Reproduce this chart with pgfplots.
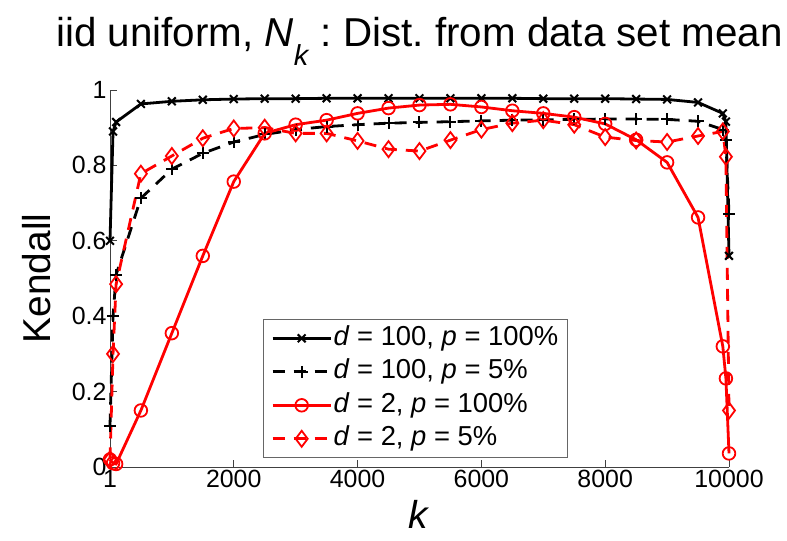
\documentclass[border=0pt]{standalone}
\usepackage{pgfplots}
\pgfplotsset{compat=1.18}
\usepackage{pgfplotstable}
\usepackage{fontspec}
\setmainfont{Liberation Sans}

\pgfplotstableread{
k A B C D
1 0.600 0.110 0.020 0.020
50 0.890 0.400 0.010 0.300
100 0.915 0.510 0.008 0.485
500 0.963 0.713 0.150 0.778
1000 0.970 0.790 0.355 0.825
1500 0.974 0.832 0.560 0.872
2000 0.976 0.862 0.757 0.898
2500 0.977 0.882 0.885 0.900
3000 0.977 0.895 0.908 0.885
3500 0.978 0.903 0.920 0.885
4000 0.978 0.908 0.938 0.865
4500 0.978 0.912 0.952 0.843
5000 0.978 0.914 0.960 0.838
5500 0.978 0.916 0.962 0.867
6000 0.978 0.918 0.955 0.895
6500 0.978 0.920 0.945 0.912
7000 0.977 0.921 0.938 0.920
7500 0.977 0.922 0.928 0.908
8000 0.977 0.923 0.910 0.875
8500 0.976 0.923 0.868 0.866
9000 0.975 0.922 0.808 0.862
9500 0.967 0.917 0.662 0.878
9900 0.938 0.895 0.320 0.890
9950 0.916 0.867 0.235 0.823
10000 0.560 0.670 0.036 0.150
}\data

\begin{document}
\frenchspacing
\begin{tikzpicture}
\begin{axis}[name=ax,
  scale only axis, width=619bp, height=377bp,
  xmin=1, xmax=10000, ymin=0, ymax=1,
  clip=false,
  scaled x ticks=false, scaled y ticks=false,
  axis x line*=bottom, axis y line*=left,
  axis line style={black!75, line width=0.8bp},
  tick align=inside, major tick length=7bp,
  tick style={black!75, line width=0.8bp},
  xtick={1,2000,4000,6000,8000,10000},
  xticklabels={1,2000,4000,6000,8000,10000},
  ytick={0,0.2,0.4,0.6,0.8,1},
  yticklabels={0,0.2,0.4,0.6,0.8,1},
  tick label style={font=\fontsize{25}{25}\selectfont},
  title={iid uniform, \textit{N}\raisebox{-19bp}{\fontsize{29}{29}\selectfont\textit{k}} : Dist. from data set mean},
  title style={font=\fontsize{40.5}{40.5}\selectfont, at={(0.5,1.1008)}, anchor=base, inner sep=0pt},
  xlabel={\textit{k}},
  xlabel style={font=\fontsize{39}{39}\selectfont, at={(0.5,-0.1618)}, anchor=base, inner sep=0pt},
  ylabel={Kendall},
  ylabel style={font=\fontsize{39}{39}\selectfont, at={(-0.0969,0.5)}, anchor=base, inner sep=0pt},
  legend cell align=left,
  legend image code/.code={\draw[mark repeat=2, mark phase=2] plot coordinates {(0bp,0bp) (29bp,0bp) (58bp,0bp)};},
  legend style={at={(0.247,0.024)}, anchor=south west, draw=black!60, line width=0.8bp,
    font=\fontsize{27.5}{27.5}\selectfont, inner xsep=8bp, inner ysep=3bp, row sep=2bp,
    nodes={inner sep=1.5bp, text height=21bp, text depth=7.5bp}},
]
\addplot[black, line width=2.8bp, mark=x, mark size=5.5bp, mark options={solid, line width=2bp}] table[x=k,y=A]{\data};
\addlegendentry{\textit{d} = 100, \textit{p} = 100\%}
\addplot[black, line width=2.8bp, dash pattern=on 12bp off 9bp, mark=+, mark size=6bp, mark options={solid, line width=2bp}] table[x=k,y=B]{\data};
\addlegendentry{\textit{d} = 100, \textit{p} = 5\%}
\addplot[red, line width=2.8bp, mark=o, mark size=6.3bp, mark options={solid, line width=1.8bp}] table[x=k,y=C]{\data};
\addlegendentry{\textit{d} = 2, \textit{p} = 100\%}
\addplot[red, line width=2.8bp, dash pattern=on 12bp off 9bp, mark=diamond, mark size=8bp, mark options={solid, line width=1.8bp}] table[x=k,y=D]{\data};
\addlegendentry{\textit{d} = 2, \textit{p} = 5\%}
\end{axis}
\pgfresetboundingbox
\path[use as bounding box] ([shift={(-110bp,-74bp)}]ax.south west) rectangle ([shift={(58bp,90bp)}]ax.north east);
\end{tikzpicture}
\end{document}
